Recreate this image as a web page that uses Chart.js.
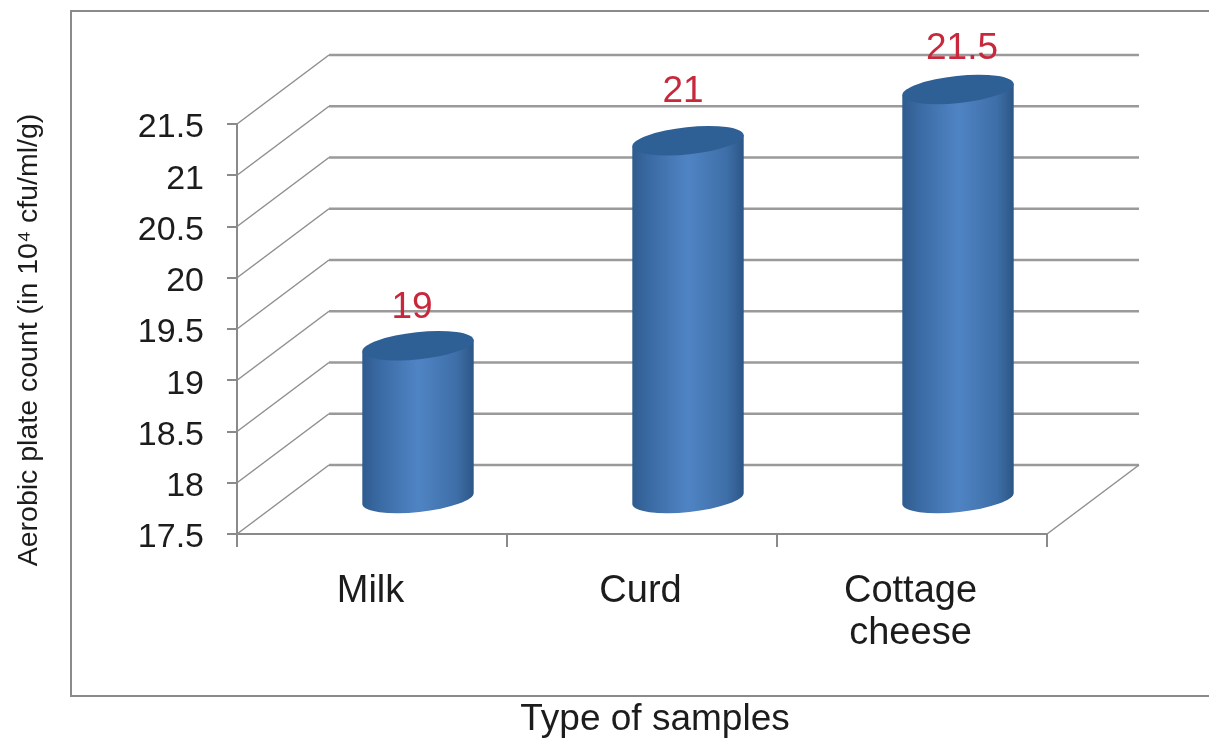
<!DOCTYPE html>
<html>
<head>
<meta charset="utf-8">
<title>Aerobic plate count</title>
<script src="https://cdn.jsdelivr.net/npm/chart.js@4"></script>
<style>
  html, body { margin: 0; padding: 0; background: #fff; }
  canvas { display: block; }
</style>
</head>
<body>
<canvas id="myChart" width="1209" height="738"></canvas>
<script>
const categories = ["Milk", "Curd", ["Cottage", "cheese"]];
const counts = [19, 21, 21.5];
const yMin = 17.5;
const yMax = 21.5;
const yStep = 0.5;
const yTitle = "Aerobic plate count (in 10\u2074 cfu/ml/g)";
const xTitle = "Type of samples";

// hand placement of the red value labels, relative to the top of each bar
const labelShiftX = [-6, -5, 4];
const labelShiftY = [-38, -49, -41];

const FONT = '"Liberation Sans", Arial, sans-serif';
const LINE = "#9a9a9a";
const AXIS = "#8a8a8a";
const DEPTH_X = 92;
const DEPTH_Y = -69;

function strokeLine(ctx, pts, color, width) {
  ctx.beginPath();
  ctx.moveTo(pts[0][0], pts[0][1]);
  for (let i = 1; i < pts.length; i++) ctx.lineTo(pts[i][0], pts[i][1]);
  ctx.strokeStyle = color;
  ctx.lineWidth = width;
  ctx.stroke();
}

// outer frame, open on the right
const framePlugin = {
  id: "frame",
  beforeDraw(chart) {
    strokeLine(chart.ctx, [[1209, 11], [71, 11], [71, 696], [1209, 696]], AXIS, 2);
  }
};

// back wall and side wall lines, one per y tick
const wallPlugin = {
  id: "walls",
  beforeDatasetsDraw(chart) {
    const ctx = chart.ctx;
    const { left, right, bottom } = chart.chartArea;
    const y = chart.scales.y;
    y.ticks.forEach(tick => {
      const py = y.getPixelForValue(tick.value);
      strokeLine(ctx, [[left, py], [left + DEPTH_X, py + DEPTH_Y]], "#8f8f8f", 1.5);
      strokeLine(ctx, [[left + DEPTH_X, py + DEPTH_Y], [right + DEPTH_X, py + DEPTH_Y]], LINE, 2.5);
    });
    strokeLine(ctx, [[right, bottom], [right + DEPTH_X, bottom + DEPTH_Y]], "#8f8f8f", 1.5);
  }
};

// the bars stand halfway into the floor and are painted as cylinders
const cylinderPlugin = {
  id: "cylinders",
  afterDatasetsDraw(chart) {
    const ctx = chart.ctx;
    const bars = chart.getDatasetMeta(0).data;
    const tilt = -6 * Math.PI / 180;
    bars.forEach(bar => {
      const cx = bar.x + DEPTH_X / 2;
      const rx = bar.width / 2;
      const ry = 13.5;
      const topY = bar.y + DEPTH_Y / 2;
      const baseY = bar.base + DEPTH_Y / 2;

      const grad = ctx.createLinearGradient(cx - rx, 0, cx + rx, 0);
      grad.addColorStop(0, "#2f5b8e");
      grad.addColorStop(0.15, "#3a6aa3");
      grad.addColorStop(0.5, "#4f84c4");
      grad.addColorStop(0.85, "#3e6ea7");
      grad.addColorStop(1, "#2c5585");

      const dxTilt = rx * Math.cos(tilt);
      const dyTilt = rx * Math.sin(tilt);
      ctx.beginPath();
      ctx.ellipse(cx, baseY, rx, ry, tilt, Math.PI, 0, true);
      ctx.lineTo(cx + dxTilt, topY + dyTilt);
      ctx.lineTo(cx - dxTilt, topY - dyTilt);
      ctx.closePath();
      ctx.fillStyle = grad;
      ctx.fill();

      ctx.beginPath();
      ctx.ellipse(cx, topY, rx, ry, tilt, 0, Math.PI * 2);
      ctx.fillStyle = "#2f6095";
      ctx.fill();
    });
  }
};

// value labels and axis titles
const textPlugin = {
  id: "texts",
  afterDraw(chart) {
    const ctx = chart.ctx;
    const bars = chart.getDatasetMeta(0).data;
    ctx.save();
    ctx.textAlign = "center";
    ctx.textBaseline = "middle";

    ctx.font = "37px " + FONT;
    ctx.fillStyle = "#c8283c";
    bars.forEach((bar, i) => {
      const x = bar.x + DEPTH_X / 2 + labelShiftX[i];
      const y = bar.y + DEPTH_Y / 2 + labelShiftY[i];
      ctx.fillText(String(counts[i]), x, y);
    });

    ctx.fillStyle = "#1c1c1c";
    ctx.font = "37px " + FONT;
    ctx.fillText(xTitle, 655, 720);

    ctx.translate(29, 340);
    ctx.rotate(-Math.PI / 2);
    ctx.font = "28.5px " + FONT;
    ctx.fillText(yTitle, 0, 0);
    ctx.restore();
  }
};

const ctx = document.getElementById("myChart").getContext("2d");

new Chart(ctx, {
  type: "bar",
  data: {
    labels: categories,
    datasets: [{
      label: "Aerobic plate count",
      data: counts,
      base: yMin,
      backgroundColor: "rgba(0,0,0,0)",
      barPercentage: 112 / 270,
      categoryPercentage: 1
    }]
  },
  options: {
    responsive: false,
    animation: false,
    layout: { padding: { left: 0, top: 124, right: 162, bottom: 0 } },
    plugins: {
      legend: { display: false },
      tooltip: { enabled: false }
    },
    scales: {
      x: {
        afterFit: scale => { scale.height = 204; },
        grid: { offset: true, drawOnChartArea: false, tickLength: 13, color: AXIS, lineWidth: 2 },
        border: { color: AXIS, width: 2 },
        ticks: {
          maxRotation: 0,
          autoSkip: false,
          padding: 24,
          labelOffset: -1.5,
          color: "#1c1c1c",
          font: { family: FONT, size: 38, lineHeight: 1.1 }
        }
      },
      y: {
        min: yMin,
        max: yMax,
        afterFit: scale => { scale.width = 237; },
        grid: { drawOnChartArea: false, tickLength: 10, color: AXIS, lineWidth: 2 },
        border: { color: AXIS, width: 2 },
        ticks: {
          stepSize: yStep,
          padding: 23,
          labelOffset: 4,
          color: "#1c1c1c",
          font: { family: FONT, size: 34 },
          callback: value => String(value)
        }
      }
    }
  },
  plugins: [framePlugin, wallPlugin, cylinderPlugin, textPlugin]
});
</script>
</body>
</html>
